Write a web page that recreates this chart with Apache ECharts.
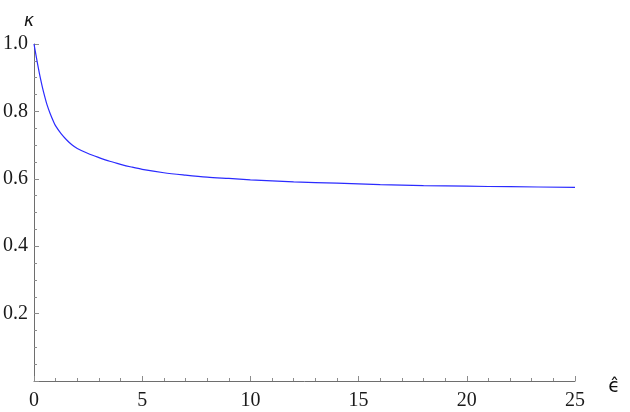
<!DOCTYPE html>
<html>
<head>
<meta charset="utf-8">
<script src="https://cdn.jsdelivr.net/npm/echarts@6/dist/echarts.min.js"></script>
<style>
  html, body { margin: 0; padding: 0; background: #fff; }
  #main { width: 630px; height: 412px; }
</style>
</head>
<body>
<div id="main"></div>
<script>
// 曲线数据
var epsHat = [0, 0.1, 0.2, 0.3, 0.4, 0.5, 0.6, 0.75, 0.9, 1, 1.25, 1.5, 1.75, 2, 2.5, 3, 3.5, 4, 4.5, 5, 6, 7, 8, 9, 10, 12, 14, 16, 18, 20, 22, 25];
var kappa = [1.0, 0.964, 0.929, 0.897, 0.868, 0.843, 0.820, 0.793, 0.770, 0.757, 0.734, 0.716, 0.701,
  0.690, 0.675, 0.663, 0.652, 0.643, 0.635, 0.628, 0.618, 0.611, 0.605, 0.601, 0.597, 0.591, 0.587, 0.583, 0.580, 0.578, 0.5765, 0.5745];
var xName = '\u03F5\u0302';
var yName = '\u03BA';

var axisGray = '#6e6e6e';
var tickGray = '#8c8c8c';
var labelFont = {
  fontFamily: 'Liberation Serif',
  fontSize: 20,
  color: '#1a1a1a'
};

var points = [];
for (var i = 0; i < epsHat.length; i++) {
  points.push([epsHat[i], kappa[i]]);
}

var myChart = echarts.init(document.getElementById('main'), null, {renderer: 'canvas'});
var option = {
  animation: false,
  grid: {
    left: 32,
    right: 55,
    top: 44,
    height: 337
  },
  // 坐标轴标题
  graphic: [
    {
      type: 'text',
      x: 29,
      y: 22,
      style: {
        text: yName,
        font: 'italic 17px "DejaVu Sans"',
        fill: '#111',
        textAlign: 'center',
        textVerticalAlign: 'middle'
      }
    },
    {
      type: 'text',
      x: 614,
      y: 387,
      style: {
        text: xName,
        font: '19px "DejaVu Sans"',
        fill: '#111',
        textAlign: 'center',
        textVerticalAlign: 'middle'
      }
    }
  ],
  xAxis: {
    type: 'value',
    min: 0,
    max: 25,
    interval: 5,
    splitLine: {show: false},
    axisLine: {lineStyle: {color: axisGray, width: 1}},
    axisTick: {inside: true, length: 5, lineStyle: {color: tickGray}},
    minorTick: {show: true, splitNumber: 5, length: 3, lineStyle: {color: tickGray}},
    axisLabel: Object.assign({margin: 10, showMinLabel: true, showMaxLabel: true}, labelFont)
  },
  yAxis: {
    type: 'value',
    min: 0,
    max: 1,
    interval: 0.2,
    splitLine: {show: false},
    axisLine: {show: true, lineStyle: {color: axisGray, width: 1}},
    axisTick: {show: true, inside: true, length: 5, lineStyle: {color: tickGray}},
    minorTick: {show: true, splitNumber: 4, length: 3, lineStyle: {color: tickGray}},
    axisLabel: Object.assign({
      margin: 6,
      formatter: function (v) {
        return v === 0 ? '' : v.toFixed(1);
      }
    }, labelFont)
  },
  series: [
    {
      type: 'line',
      data: points,
      smooth: 0.3,
      showSymbol: false,
      lineStyle: {color: '#2b2bff', width: 1.2}
    }
  ]
};
myChart.setOption(option);
</script>
</body>
</html>
